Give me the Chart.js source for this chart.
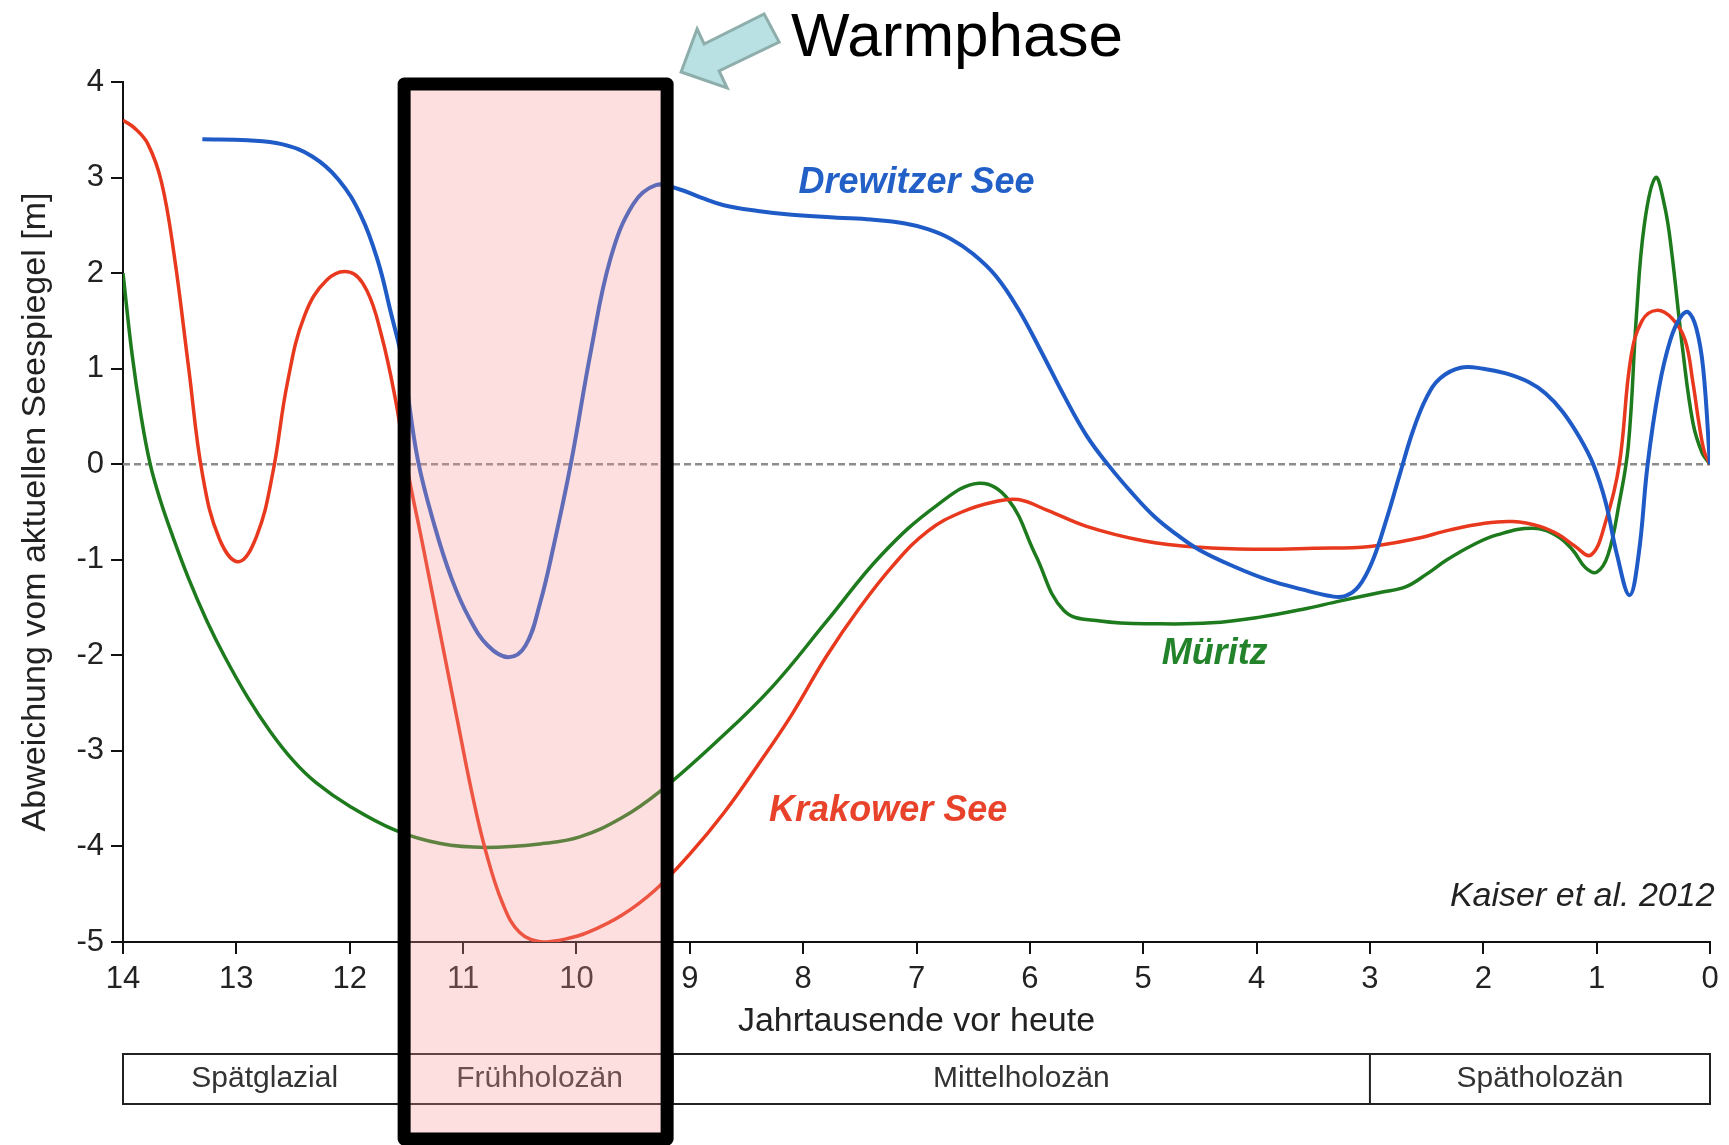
<!DOCTYPE html>
<html>
<head>
<meta charset="utf-8">
<title>Seespiegel Drewitzer See, Krakower See, Müritz</title>
<script src="https://cdn.jsdelivr.net/npm/chart.js@4.4.1/dist/chart.umd.min.js"></script>
<style>
  html, body { margin: 0; padding: 0; background: #fff; }
  canvas { display: block; }
</style>
</head>
<body>
<canvas id="chart" width="1729" height="1145"></canvas>
<script>
// x: Jahrtausende vor heute (ka), y: Abweichung vom aktuellen Seespiegel (m)
const drewitzer = [
  [13.3, 3.4], [12.9, 3.39], [12.6, 3.35], [12.33, 3.22], [12.1, 2.98], [11.9, 2.6],
  [11.75, 2.12], [11.64, 1.6], [11.53, 1.05], [11.4, 0.05], [11.25, -0.65], [11.1, -1.2],
  [10.95, -1.6], [10.78, -1.9], [10.6, -2.02], [10.45, -1.9], [10.32, -1.45], [10.2, -0.85],
  [10.05, 0], [9.87, 1.2], [9.7, 2.15], [9.5, 2.72], [9.3, 2.92], [9.1, 2.88], [8.9, 2.79],
  [8.7, 2.71], [8.4, 2.65], [8.1, 2.61], [7.7, 2.58], [7.4, 2.56], [7.1, 2.52], [6.9, 2.46],
  [6.7, 2.36], [6.5, 2.2], [6.3, 1.97], [6.1, 1.62], [5.9, 1.18], [5.7, 0.72], [5.5, 0.3],
  [5.3, -0.02], [5.1, -0.3], [4.9, -0.55], [4.7, -0.74], [4.5, -0.9], [4.2, -1.07],
  [3.9, -1.21], [3.6, -1.31], [3.35, -1.38], [3.22, -1.38], [3.1, -1.28], [2.98, -1.02],
  [2.86, -0.6], [2.74, -0.12], [2.62, 0.35], [2.5, 0.7], [2.38, 0.9], [2.2, 1.01], [2.0, 1.0],
  [1.8, 0.95], [1.6, 0.86], [1.45, 0.74], [1.3, 0.55], [1.15, 0.28], [1.03, 0], [0.92, -0.4],
  [0.82, -0.95], [0.71, -1.37], [0.63, -0.95], [0.55, 0], [0.45, 0.8], [0.35, 1.3],
  [0.26, 1.54], [0.19, 1.59], [0.12, 1.42], [0.06, 1.0], [0, 0]
];
const krakower = [
  [14, 3.6], [13.9, 3.52], [13.78, 3.35], [13.66, 2.95], [13.55, 2.2], [13.42, 1.0],
  [13.3, -0.1], [13.15, -0.78], [12.98, -1.02], [12.82, -0.75], [12.68, -0.1], [12.55, 0.85],
  [12.4, 1.55], [12.2, 1.93], [12.0, 2.01], [11.85, 1.82], [11.72, 1.35], [11.6, 0.7],
  [11.5, 0], [11.35, -0.88], [11.2, -1.78], [11.05, -2.68], [10.92, -3.45], [10.8, -4.05],
  [10.65, -4.6], [10.5, -4.9], [10.3, -5.0], [10.1, -4.97], [9.9, -4.9], [9.6, -4.72],
  [9.3, -4.45], [9.0, -4.08], [8.7, -3.65], [8.4, -3.15], [8.1, -2.62], [7.8, -2.02],
  [7.5, -1.5], [7.2, -1.05], [6.9, -0.7], [6.6, -0.5], [6.3, -0.39], [6.1, -0.37],
  [5.85, -0.48], [5.5, -0.65], [5.0, -0.8], [4.5, -0.87], [4.0, -0.89], [3.5, -0.88],
  [3.0, -0.86], [2.6, -0.78], [2.3, -0.69], [2.0, -0.62], [1.74, -0.6], [1.5, -0.65],
  [1.33, -0.74], [1.2, -0.85], [1.05, -0.95], [0.92, -0.6], [0.8, 0], [0.7, 1.1], [0.6, 1.5],
  [0.47, 1.61], [0.33, 1.52], [0.22, 1.3], [0.15, 0.85], [0.1, 0.45], [0.05, 0.13], [0, 0]
];
const mueritz = [
  [14, 2.0], [13.92, 1.15], [13.84, 0.5], [13.76, 0], [13.67, -0.38], [13.56, -0.76],
  [13.42, -1.2], [13.26, -1.64], [13.1, -2.02], [12.9, -2.44], [12.7, -2.8], [12.5, -3.1],
  [12.3, -3.33], [12.0, -3.58], [11.6, -3.83], [11.2, -3.97], [10.8, -4.01], [10.3, -3.97],
  [9.97, -3.9], [9.6, -3.7], [9.26, -3.42], [8.77, -2.91], [8.28, -2.34], [7.79, -1.64],
  [7.31, -0.95], [6.82, -0.43], [6.45, -0.2], [6.19, -0.37], [5.95, -0.95], [5.7, -1.53],
  [5.38, -1.64], [4.85, -1.67], [4.4, -1.66], [3.97, -1.6], [3.6, -1.52], [3.26, -1.43],
  [2.9, -1.34], [2.68, -1.28], [2.5, -1.15], [2.32, -1.0], [2.1, -0.85], [1.88, -0.74],
  [1.56, -0.67], [1.35, -0.75], [1.21, -0.9], [1.1, -1.08], [1.0, -1.13], [0.9, -0.95],
  [0.8, -0.4], [0.72, 0.2], [0.65, 1.54], [0.58, 2.5], [0.48, 3.0], [0.4, 2.7], [0.34, 2.24],
  [0.24, 1.19], [0.15, 0.43], [0.07, 0.12], [0, 0]
];
const heute = [[14, 0], [0, 0]];

const periodNames = ["Spätglazial", "Frühholozän", "Mittelholozän", "Spätholozän"];
const periodBounds = [14, 11.5, 9.15, 3, 0];
const warmphase = [11.52, 9.2];

// label anchors in data units (ka, m)
const lakeLabels = [
  { text: "Drewitzer See", x: 7.0, y: 2.94, color: "#2260c8" },
  { text: "Müritz", x: 4.37, y: -1.99, color: "#23832a" },
  { text: "Krakower See", x: 7.25, y: -3.63, color: "#e8422a" }
];

Chart.defaults.font.family = "'Liberation Sans', Arial, Helvetica, sans-serif";
const tickFont = { size: 31 };

const decorations = {
  id: "decorations",
  afterDraw(chart) {
    const { ctx, scales: { x, y } } = chart;
    const x0 = x.getPixelForValue(14), x1 = x.getPixelForValue(0);
    const barTop = y.getPixelForValue(-5) + 112, barH = 50;

    ctx.save();
    // period bar
    ctx.strokeStyle = "#222";
    ctx.lineWidth = 2;
    ctx.strokeRect(x0, barTop, x1 - x0, barH);
    periodBounds.slice(1, -1).forEach(b => {
      const px = x.getPixelForValue(b);
      ctx.beginPath();
      ctx.moveTo(px, barTop);
      ctx.lineTo(px, barTop + barH);
      ctx.stroke();
    });
    ctx.fillStyle = "#333";
    ctx.font = "30px 'Liberation Sans', Arial, sans-serif";
    ctx.textAlign = "center";
    ctx.textBaseline = "middle";
    periodNames.forEach((name, i) => {
      const cx = (x.getPixelForValue(periodBounds[i]) + x.getPixelForValue(periodBounds[i + 1])) / 2;
      ctx.fillText(name, cx, barTop + barH / 2);
    });

    // lake labels + source
    ctx.font = "italic bold 36px 'Liberation Sans', Arial, sans-serif";
    lakeLabels.forEach(l => {
      ctx.fillStyle = l.color;
      ctx.fillText(l.text, x.getPixelForValue(l.x), y.getPixelForValue(l.y));
    });
    ctx.font = "italic 34px 'Liberation Sans', Arial, sans-serif";
    ctx.fillStyle = "#222";
    ctx.textAlign = "right";
    ctx.fillText("Kaiser et al. 2012", x.getPixelForValue(-0.04), y.getPixelForValue(-4.52));

    // warm phase box
    const bl = x.getPixelForValue(warmphase[0]);
    const br = x.getPixelForValue(warmphase[1]);
    const bt = y.getPixelForValue(4) + 2;
    const bb = chart.height - 6;
    ctx.fillStyle = "rgba(250, 150, 150, 0.3)";
    ctx.fillRect(bl, bt, br - bl, bb - bt);
    ctx.strokeStyle = "#000";
    ctx.lineWidth = 13;
    ctx.lineJoin = "round";
    ctx.strokeRect(bl, bt, br - bl, bb - bt);

    // arrow pointing at the box
    const arrow = [[14, -12], [30, -55], [37, -40], [97, -70], [112, -42], [52, -13], [60, 4]];
    ctx.beginPath();
    arrow.forEach(([dx, dy], i) => {
      if (i === 0) ctx.moveTo(br + dx, bt + dy);
      else ctx.lineTo(br + dx, bt + dy);
    });
    ctx.closePath();
    ctx.fillStyle = "#b9e0e2";
    ctx.fill();
    ctx.strokeStyle = "#8eaeac";
    ctx.lineWidth = 3;
    ctx.lineJoin = "miter";
    ctx.stroke();

    ctx.fillStyle = "#000";
    ctx.font = "62px 'Liberation Sans', Arial, sans-serif";
    ctx.textAlign = "left";
    ctx.textBaseline = "alphabetic";
    ctx.fillText("Warmphase", br + 124, 56);
    ctx.restore();
  }
};

new Chart(document.getElementById("chart"), {
  type: "line",
  data: {
    datasets: [
      { label: "Drewitzer See", data: drewitzer, borderColor: "#1f5bc6", borderWidth: 4 },
      { label: "Krakower See", data: krakower, borderColor: "#e8381d", borderWidth: 3.5 },
      { label: "Müritz", data: mueritz, borderColor: "#1d7a1d", borderWidth: 3.5 },
      { label: "heute", data: heute, borderColor: "#8c8c8c", borderWidth: 2.5, borderDash: [7, 4], tension: 0 }
    ]
  },
  options: {
    responsive: false,
    animation: false,
    devicePixelRatio: 1,
    elements: {
      point: { radius: 0 },
      line: { tension: 0.4, fill: false }
    },
    layout: { padding: { top: 82, right: 19, left: 0, bottom: 0 } },
    plugins: { legend: { display: false }, tooltip: { enabled: false } },
    scales: {
      x: {
        type: "linear",
        reverse: true,
        min: 0,
        max: 14,
        afterFit: s => { s.height = 203; },
        ticks: { stepSize: 1, padding: 7, color: "#222", font: tickFont, maxRotation: 0, autoSkip: false },
        grid: { drawOnChartArea: false, tickLength: 12, color: "#111", lineWidth: 2 },
        border: { color: "#111", width: 2 },
        title: {
          display: true, text: "Jahrtausende vor heute", color: "#222",
          font: { size: 34 }, padding: { top: 0, bottom: 103 }
        }
      },
      y: {
        min: -5,
        max: 4,
        afterFit: s => { s.width = 123; },
        ticks: { stepSize: 1, padding: 7, color: "#222", font: tickFont },
        grid: { drawOnChartArea: false, tickLength: 12, color: "#111", lineWidth: 2 },
        border: { color: "#111", width: 2 },
        title: {
          display: true, text: "Abweichung vom aktuellen Seespiegel [m]", color: "#222",
          font: { size: 34 }, padding: { top: 15, bottom: 0 }
        }
      }
    }
  },
  plugins: [decorations]
});
</script>
</body>
</html>
